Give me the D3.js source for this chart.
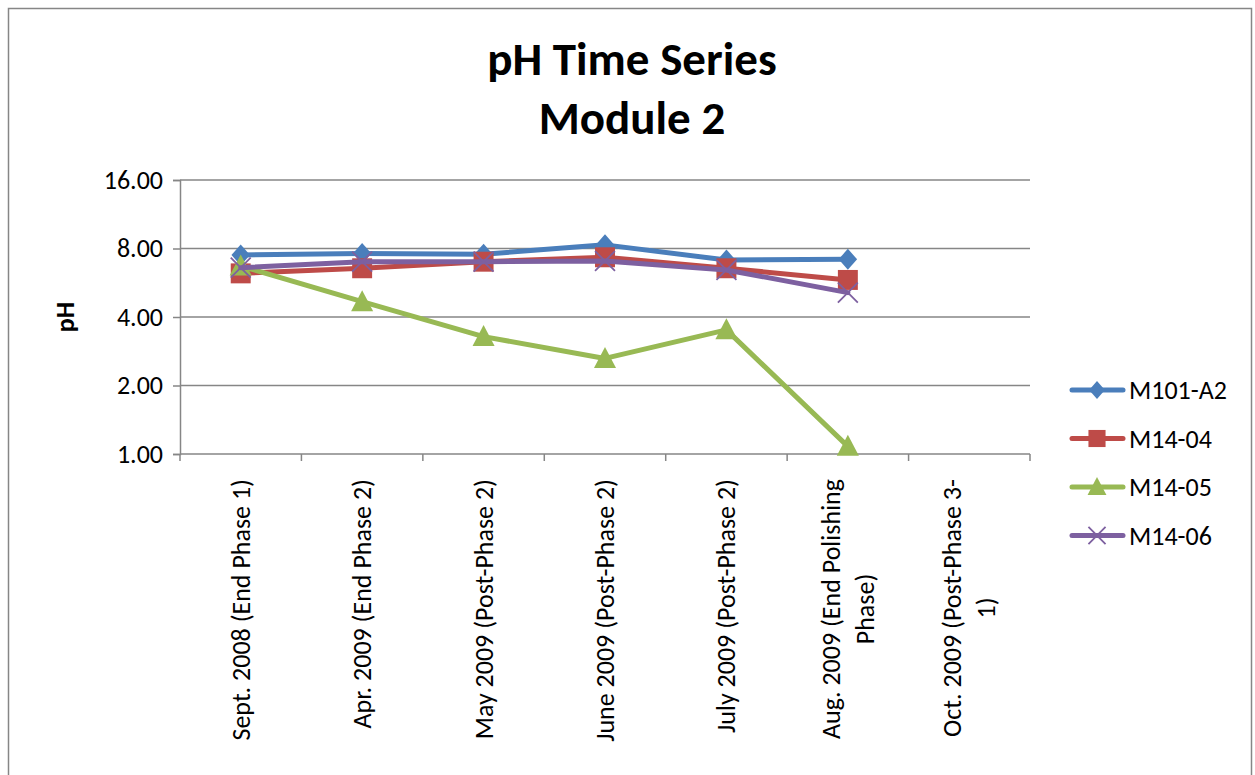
<!DOCTYPE html>
<html>
<head>
<meta charset="utf-8">
<script src="https://cdn.jsdelivr.net/npm/d3@7"></script>
<style>
  html, body { margin: 0; padding: 0; background: #fff; }
  svg { display: block; font-family: Carlito, Lato, "Open Sans", sans-serif; }
</style>
</head>
<body>
<svg id="chart" width="1255" height="775"></svg>
<script>
// Sampling events (x categories); multi-line labels split by "\n"
const categories = [
  "Sept. 2008 (End Phase 1)",
  "Apr. 2009 (End Phase 2)",
  "May 2009 (Post-Phase 2)",
  "June 2009 (Post-Phase 2)",
  "July 2009 (Post-Phase 2)",
  "Aug. 2009 (End Polishing\nPhase)",
  "Oct. 2009 (Post-Phase 3-\n1)"
];

// pH readings per well (null = not sampled)
const m101A2 = [7.5, 7.6, 7.55, 8.3, 7.12, 7.17, null];
const m1404  = [6.22, 6.55, 7.0, 7.32, 6.55, 5.82, null];
const m1405  = [6.7, 4.67, 3.28, 2.63, 3.51, 1.08, null];
const m1406  = [6.59, 7.0, 7.0, 7.05, 6.44, 5.12, null];

const seriesNames = ["M101-A2", "M14-04", "M14-05", "M14-06"];
const yTicks = [1, 2, 4, 8, 16];

const series = [
  { name: seriesNames[0], values: m101A2, color: "#4A7EBB", marker: "diamond" },
  { name: seriesNames[1], values: m1404,  color: "#BE4B48", marker: "square" },
  { name: seriesNames[2], values: m1405,  color: "#98B954", marker: "triangle" },
  { name: seriesNames[3], values: m1406,  color: "#7D60A0", marker: "cross" }
];

const svg = d3.select("#chart");
const plot = { left: 180, right: 1030, top: 180, bottom: 454 };
const fontFam = "Carlito, Lato, 'Open Sans', sans-serif";

// Outer chart frame
svg.append("rect")
  .attr("x", 8.5).attr("y", 8.5)
  .attr("width", 1243).attr("height", 800)
  .attr("fill", "#fff").attr("stroke", "#868686").attr("stroke-width", 1.5);

// Title
svg.append("text")
  .attr("x", 632).attr("y", 75)
  .attr("text-anchor", "middle")
  .attr("font-size", 47).attr("font-weight", "bold")
  .text("pH Time Series");
svg.append("text")
  .attr("x", 632).attr("y", 134)
  .attr("text-anchor", "middle")
  .attr("font-size", 47).attr("font-weight", "bold")
  .text("Module 2");

const x = d3.scaleBand().domain(categories).range([plot.left, plot.right]);
const y = d3.scaleLog().base(2).domain([1, 16]).range([plot.bottom, plot.top]);

// Horizontal gridlines
svg.append("g")
  .selectAll("line")
  .data(yTicks.filter(d => d > 1))
  .join("line")
  .attr("x1", plot.left).attr("x2", plot.right)
  .attr("y1", d => y(d)).attr("y2", d => y(d))
  .attr("stroke", "#868686").attr("stroke-width", 1.5);

// Y axis
const yAxis = svg.append("g")
  .attr("transform", `translate(${plot.left},0)`)
  .call(d3.axisLeft(y).tickValues(yTicks).tickFormat(d3.format(".2f")).tickSize(7).tickPadding(10));
yAxis.select(".domain").attr("stroke", "#868686").attr("stroke-width", 1.5);
yAxis.selectAll(".tick line").attr("stroke", "#868686").attr("stroke-width", 1.5);
yAxis.selectAll(".tick text")
  .attr("font-size", 26).attr("fill", "#000")
  .attr("font-family", fontFam);

// X axis baseline and boundary ticks
svg.append("line")
  .attr("x1", plot.left).attr("x2", plot.right)
  .attr("y1", plot.bottom).attr("y2", plot.bottom)
  .attr("stroke", "#868686").attr("stroke-width", 1.5);
const bounds = categories.map(c => x(c)).concat([x(categories[categories.length - 1]) + x.bandwidth()]);
svg.append("g").selectAll("line")
  .data(bounds)
  .join("line")
  .attr("x1", d => d).attr("x2", d => d)
  .attr("y1", plot.bottom).attr("y2", plot.bottom + 7)
  .attr("stroke", "#868686").attr("stroke-width", 1.5);

// Rotated category labels, text end aligned just below the axis
const lineH = 34;
const catG = svg.append("g");
categories.forEach(c => {
  const lines = c.split("\n");
  const cx = x(c) + x.bandwidth() / 2;
  const t = catG.append("text")
    .attr("text-anchor", "middle")
    .attr("font-size", 26);
  const total = lines.length;
  lines.forEach((ln, i) => {
    t.append("tspan")
      .attr("x", 0)
      .attr("y", (i - (total - 1) / 2) * lineH + 9)
      .text(ln);
  });
  const w = t.node().getBBox().width;
  t.attr("transform", `translate(${cx},${479 + w / 2}) rotate(-90)`);
});

// Y axis title
svg.append("text")
  .attr("transform", `translate(74,317) rotate(-90)`)
  .attr("text-anchor", "middle")
  .attr("font-size", 26).attr("font-weight", "bold")
  .text("pH");

// Marker drawing
function drawMarker(g, type, color, s) {
  if (type === "diamond") {
    const w = s * 0.88;
    g.append("path").attr("d", `M0,${-s}L${w},0L0,${s}L${-w},0Z`).attr("fill", color);
  } else if (type === "square") {
    const h = s * 0.95;
    g.append("rect").attr("x", -h).attr("y", -h).attr("width", 2 * h).attr("height", 2 * h).attr("fill", color);
  } else if (type === "triangle") {
    g.append("path").attr("d", `M0,${-s * 1.1}L${s * 1.05},${s * 0.9}L${-s * 1.05},${s * 0.9}Z`).attr("fill", color);
  } else {
    const h = s * 0.95;
    g.append("path").attr("d", `M${-h},${-h}L${h},${h}M${-h},${h}L${h},${-h}`)
      .attr("stroke", color).attr("stroke-width", 1.8).attr("fill", "none");
  }
}

const line = d3.line()
  .defined(d => d.v != null)
  .x(d => x(d.c) + x.bandwidth() / 2)
  .y(d => y(d.v));

series.forEach(s => {
  const pts = categories.map((c, i) => ({ c, v: s.values[i] }));
  const g = svg.append("g");
  g.append("path")
    .attr("d", line(pts))
    .attr("fill", "none").attr("stroke", s.color)
    .attr("stroke-width", 5).attr("stroke-linejoin", "round").attr("stroke-linecap", "round");
  pts.filter(p => p.v != null).forEach(p => {
    const mg = g.append("g").attr("transform", `translate(${x(p.c) + x.bandwidth() / 2},${y(p.v)})`);
    drawMarker(mg, s.marker, s.color, 10.5);
  });
});

// Legend
const legend = svg.append("g");
series.forEach((s, i) => {
  const ly = 390 + i * 48.5;
  const g = legend.append("g").attr("transform", `translate(0,${ly})`);
  g.append("line")
    .attr("x1", 1072).attr("x2", 1123).attr("y1", 0).attr("y2", 0)
    .attr("stroke", s.color).attr("stroke-width", 5).attr("stroke-linecap", "round");
  const mg = g.append("g").attr("transform", "translate(1097,0)");
  drawMarker(mg, s.marker, s.color, 9);
  g.append("text")
    .attr("x", 1129).attr("y", 9)
    .attr("font-size", 26)
    .text(s.name);
});
</script>
</body>
</html>
